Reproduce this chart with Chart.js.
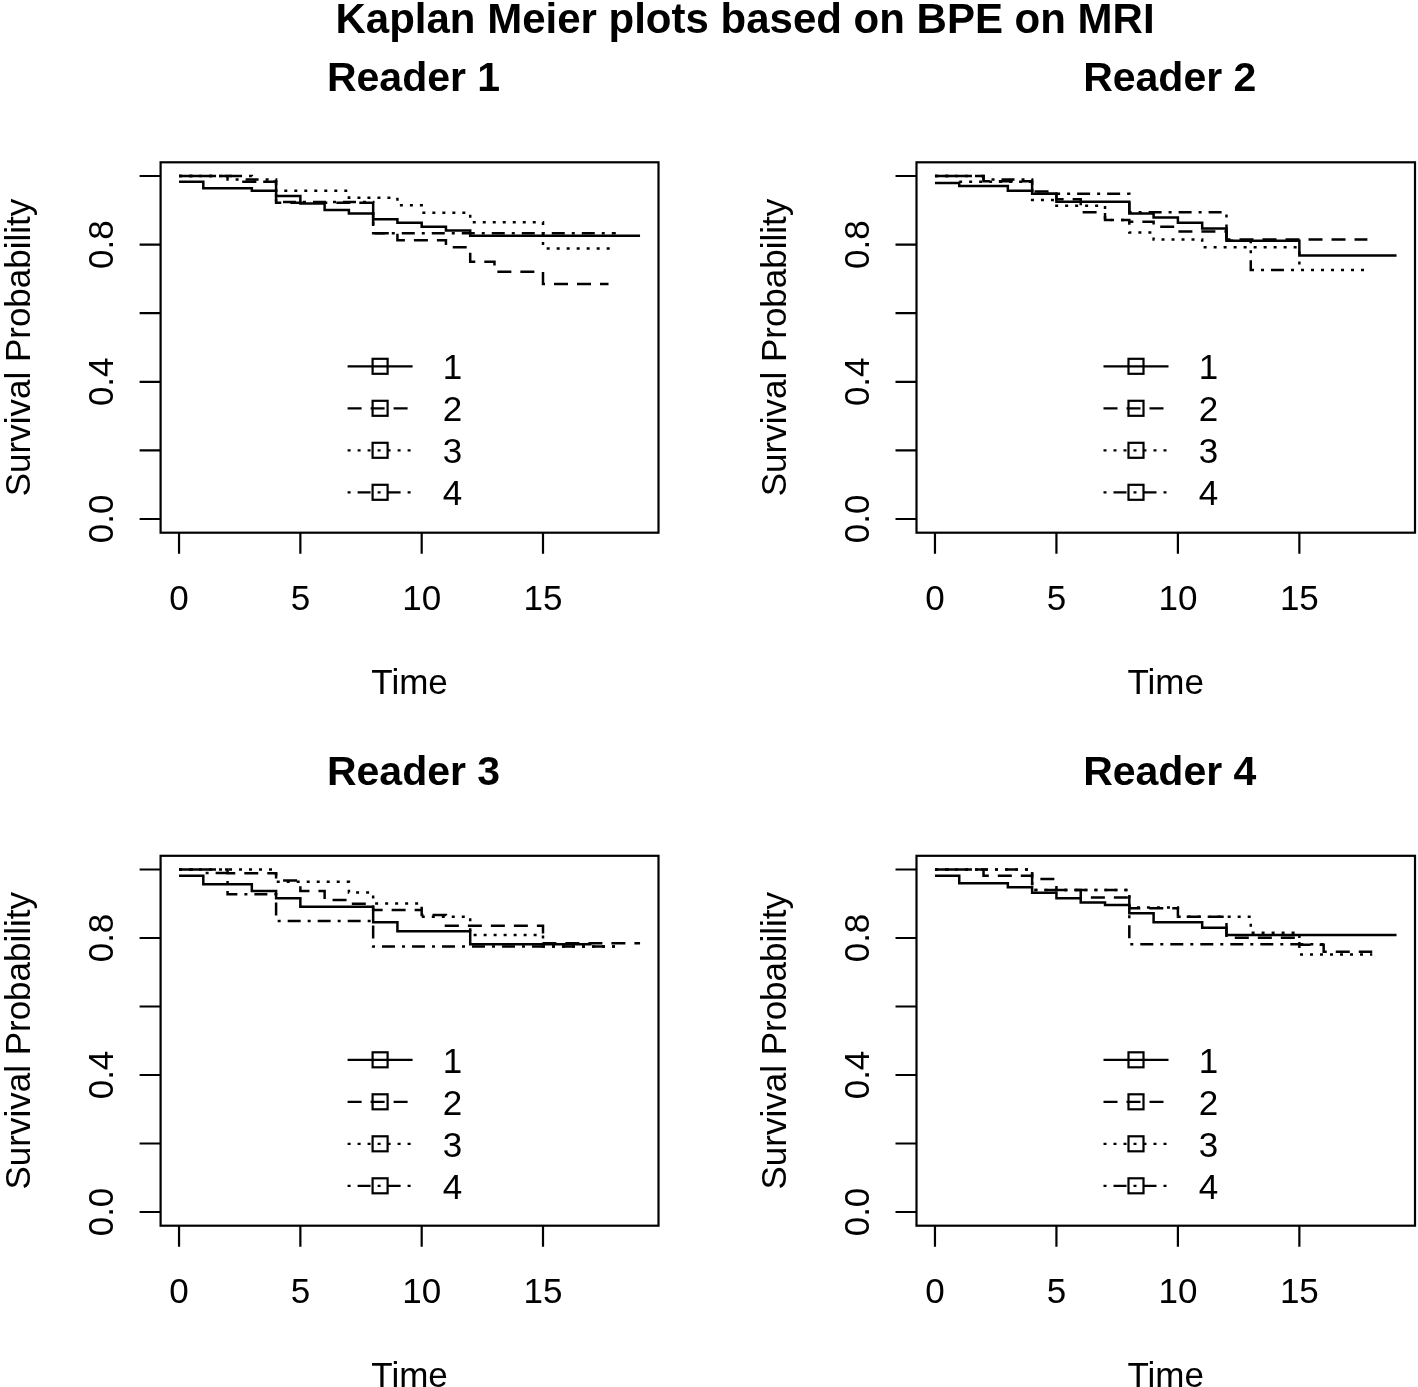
<!DOCTYPE html>
<html>
<head>
<meta charset="utf-8">
<script src="https://cdn.jsdelivr.net/npm/chart.js@4.4.1/dist/chart.umd.min.js"></script>
<style>
  html, body { margin: 0; padding: 0; background: #ffffff; }
  #wrap { position: relative; width: 1418px; height: 1387px; overflow: hidden; background: #fff; }
  canvas { position: absolute; left: 0; top: 0; }
</style>
</head>
<body>
<div id="wrap">
  <canvas id="c1" width="1418" height="1387"></canvas>
  <canvas id="c2" width="1418" height="1387"></canvas>
  <canvas id="c3" width="1418" height="1387"></canvas>
  <canvas id="c4" width="1418" height="1387"></canvas>
</div>
<script>
// ---------- text / categories ----------
const mainTitle = "Kaplan Meier plots based on BPE on MRI";
const panelTitles = ["Reader 1", "Reader 2", "Reader 3", "Reader 4"];
const groupNames = ["1", "2", "3", "4"];
const xAxisTitle = "Time";
const yAxisTitle = "Survival Probability";
const xTicks = [0, 5, 10, 15];
const xTickLabels = ["0", "5", "10", "15"];
const yTicks = [0, 0.2, 0.4, 0.6, 0.8, 1.0];
const yTickLabels = ["0.0", "", "0.4", "", "0.8", ""];

// ---------- Reader 1 ----------
const r1g1Time = [0, 1, 3, 4, 5, 6, 7, 8, 9, 10, 11, 12, 19];
const r1g1Surv = [0.983, 0.964, 0.957, 0.942, 0.920, 0.901, 0.891, 0.874, 0.864, 0.852, 0.841, 0.826, 0.826];
const r1g2Time = [0, 2.5, 4, 8, 9, 11, 12, 13, 15, 17.7];
const r1g2Surv = [1.0, 0.983, 0.922, 0.833, 0.813, 0.792, 0.750, 0.721, 0.685, 0.685];
const r1g3Time = [0, 3, 4, 7, 9, 10, 12, 15, 18];
const r1g3Surv = [1.0, 0.983, 0.957, 0.937, 0.915, 0.893, 0.865, 0.789, 0.789];
const r1g4Time = [0, 2, 4, 8, 18];
const r1g4Surv = [1.0, 0.99, 0.924, 0.833, 0.833];

// ---------- Reader 2 ----------
const r2g1Time = [0, 1, 3, 4, 5, 8, 9, 10, 11, 12, 15, 19];
const r2g1Surv = [0.980, 0.971, 0.957, 0.948, 0.925, 0.891, 0.879, 0.864, 0.847, 0.811, 0.768, 0.768];
const r2g2Time = [0, 2, 4, 5, 6, 7, 8, 9, 10, 12, 17.8];
const r2g2Surv = [1.0, 0.985, 0.955, 0.932, 0.894, 0.872, 0.867, 0.852, 0.838, 0.815, 0.815];
const r2g3Time = [0, 1, 4, 5, 7, 8, 9, 11, 15, 17.8];
const r2g3Surv = [1.0, 0.983, 0.930, 0.913, 0.872, 0.835, 0.815, 0.792, 0.726, 0.726];
const r2g4Time = [0, 2, 4, 8, 12, 13, 15];
const r2g4Surv = [1.0, 0.99, 0.948, 0.894, 0.811, 0.726, 0.726];

// ---------- Reader 3 ----------
const r3g1Time = [0, 1, 3, 4, 5, 8, 9, 12, 17];
const r3g1Surv = [0.982, 0.957, 0.937, 0.916, 0.891, 0.846, 0.820, 0.782, 0.782];
const r3g2Time = [0, 2, 4, 5, 6, 7, 8, 10, 11, 15, 19];
const r3g2Surv = [1.0, 0.989, 0.968, 0.937, 0.911, 0.900, 0.882, 0.867, 0.836, 0.785, 0.785];
const r3g3Time = [0, 4, 7, 8, 10, 12, 15, 18];
const r3g3Surv = [1.0, 0.964, 0.933, 0.901, 0.862, 0.809, 0.775, 0.775];
const r3g4Time = [0, 1, 2, 4, 8, 18];
const r3g4Surv = [1.0, 0.99, 0.928, 0.850, 0.775, 0.775];

// ---------- Reader 4 ----------
const r4g1Time = [0, 1, 3, 4, 5, 6, 7, 8, 9, 11, 12, 19];
const r4g1Surv = [0.982, 0.960, 0.948, 0.932, 0.916, 0.904, 0.896, 0.872, 0.846, 0.830, 0.809, 0.809];
const r4g2Time = [0, 2, 4, 5, 6, 8, 10, 12, 15, 16, 18];
const r4g2Surv = [1.0, 0.982, 0.972, 0.940, 0.918, 0.887, 0.862, 0.801, 0.780, 0.760, 0.760];
const r4g3Time = [0, 4, 8, 10, 13, 15, 18];
const r4g3Surv = [1.0, 0.940, 0.889, 0.862, 0.815, 0.752, 0.752];
const r4g4Time = [0, 4, 8, 16];
const r4g4Surv = [1.0, 0.940, 0.782, 0.782];

// ---------- styling (not data) ----------
const dashStyles = [[], [14, 9], [3, 7], [3, 7, 13, 7]];
const FONT = "'Liberation Sans', Arial, Helvetica, sans-serif";
const W = 1418, H = 1387;
// plot boxes: [left, top, right, bottom]
const boxes = [
  [160.6, 162.3, 658.5, 532.7],
  [916.5, 162.3, 1415.0, 532.7],
  [160.6, 855.8, 658.5, 1225.7],
  [916.5, 855.8, 1415.0, 1225.7]
];

const panels = [
  [[r1g1Time, r1g1Surv], [r1g2Time, r1g2Surv], [r1g3Time, r1g3Surv], [r1g4Time, r1g4Surv]],
  [[r2g1Time, r2g1Surv], [r2g2Time, r2g2Surv], [r2g3Time, r2g3Surv], [r2g4Time, r2g4Surv]],
  [[r3g1Time, r3g1Surv], [r3g2Time, r3g2Surv], [r3g3Time, r3g3Surv], [r3g4Time, r3g4Surv]],
  [[r4g1Time, r4g1Surv], [r4g2Time, r4g2Surv], [r4g3Time, r4g3Surv], [r4g4Time, r4g4Surv]]
];

function rPlotPlugin(idx) {
  return {
    id: 'rplot' + idx,
    afterDraw(chart) {
      const ctx = chart.ctx;
      const a = chart.chartArea;
      const xs = chart.scales.x, ys = chart.scales.y;
      ctx.save();
      ctx.strokeStyle = '#000';
      ctx.fillStyle = '#000';
      ctx.lineWidth = 2.2;
      ctx.setLineDash([]);
      // box
      ctx.strokeRect(a.left, a.top, a.right - a.left, a.bottom - a.top);
      // x axis ticks
      ctx.beginPath();
      xTicks.forEach(v => {
        const px = xs.getPixelForValue(v);
        ctx.moveTo(px, a.bottom);
        ctx.lineTo(px, a.bottom + 21);
      });
      ctx.stroke();
      ctx.font = '35px ' + FONT;
      ctx.textAlign = 'center';
      ctx.textBaseline = 'alphabetic';
      xTicks.forEach((v, i) => {
        ctx.fillText(xTickLabels[i], xs.getPixelForValue(v), a.bottom + 77);
      });
      // y axis ticks
      ctx.beginPath();
      yTicks.forEach(v => {
        const py = ys.getPixelForValue(v);
        ctx.moveTo(a.left, py);
        ctx.lineTo(a.left - 21, py);
      });
      ctx.stroke();
      yTicks.forEach((v, i) => {
        if (!yTickLabels[i]) return;
        ctx.save();
        ctx.translate(a.left - 48, ys.getPixelForValue(v));
        ctx.rotate(-Math.PI / 2);
        ctx.fillText(yTickLabels[i], 0, 0);
        ctx.restore();
      });
      // axis titles
      ctx.fillText(xAxisTitle, (a.left + a.right) / 2, a.bottom + 161);
      ctx.save();
      ctx.translate(a.left - 131, (a.top + a.bottom) / 2);
      ctx.rotate(-Math.PI / 2);
      ctx.fillText(yAxisTitle, 0, 0);
      ctx.restore();
      // panel title
      ctx.font = 'bold 41px ' + FONT;
      ctx.fillText(panelTitles[idx], (a.left + a.right) / 2 + 4, a.top - 71);
      if (idx === 0) {
        ctx.font = 'bold 42px ' + FONT;
        ctx.fillText(mainTitle, 745, 33);
      }
      // legend
      ctx.font = '35px ' + FONT;
      ctx.textAlign = 'center';
      ctx.lineWidth = 2.2;
      chart.data.datasets.forEach((ds, i) => {
        const ly = a.top + 204 + i * 42;
        const lx0 = a.left + 187, lx1 = a.left + 252, cx = a.left + 219.5;
        ctx.setLineDash(dashStyles[i]);
        ctx.beginPath();
        ctx.moveTo(lx0, ly);
        ctx.lineTo(lx1, ly);
        ctx.stroke();
        ctx.setLineDash([]);
        ctx.strokeRect(cx - 7.5, ly - 7.5, 15, 15);
        ctx.fillText(ds.label, a.left + 292, ly + 13);
      });
      ctx.restore();
    }
  };
}

panels.forEach((series, idx) => {
  const b = boxes[idx];
  const datasets = series.map((s, i) => ({
    label: groupNames[i],
    data: s[0].map((t, k) => ({ x: t, y: s[1][k] })),
    stepped: 'before',
    borderColor: '#000',
    borderWidth: 2.5,
    borderDash: dashStyles[i],
    pointRadius: 0,
    fill: false
  }));
  new Chart(document.getElementById('c' + (idx + 1)), {
    type: 'line',
    data: { datasets },
    options: {
      responsive: false,
      animation: false,
      devicePixelRatio: 1,
      layout: { padding: { left: b[0], top: b[1], right: W - b[2], bottom: H - b[3] } },
      plugins: { legend: { display: false }, title: { display: false }, tooltip: { enabled: false } },
      scales: {
        x: { type: 'linear', min: -0.76, max: 19.76, display: false },
        y: { type: 'linear', min: -0.04, max: 1.04, display: false }
      }
    },
    plugins: [rPlotPlugin(idx)]
  });
});
</script>
</body>
</html>
